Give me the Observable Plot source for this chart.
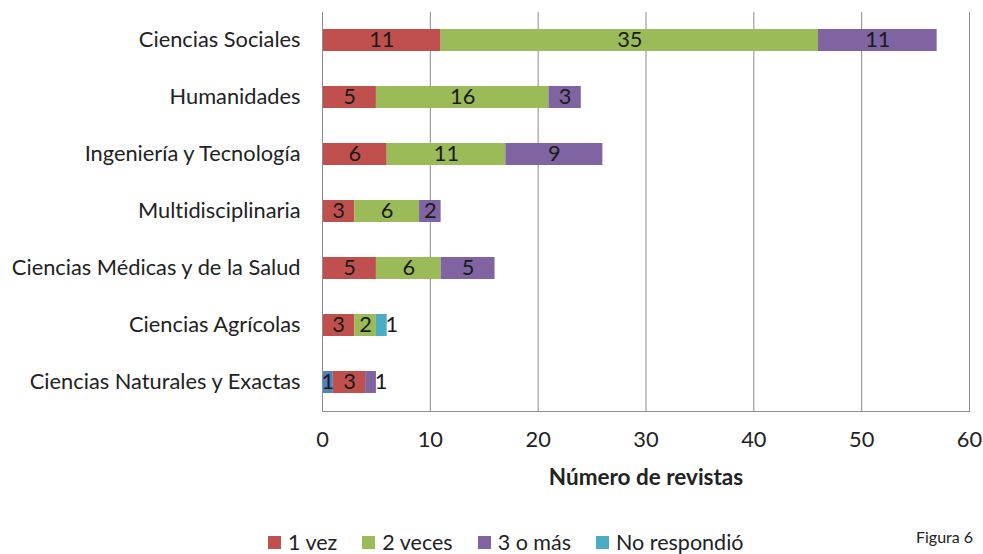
<!DOCTYPE html>
<html>
<head>
<meta charset="utf-8">
<script src="https://cdn.jsdelivr.net/npm/d3@7"></script>
<script src="https://cdn.jsdelivr.net/npm/@observablehq/plot@0.6"></script>
<style>
  html, body { margin: 0; padding: 0; background: #fff; overflow: hidden; }
  body { width: 983px; height: 554px; position: relative; font-family: Lato, "Open Sans", sans-serif; font-variant-ligatures: none; }
  svg text { font-variant-ligatures: none; }
  #chart { position: absolute; left: 0; top: 0; }
  #legend { position: absolute; left: 268px; top: 529px; display: flex; font-size: 21.5px; color: #222; white-space: nowrap; }
  #legend .item { display: flex; align-items: center; margin-right: 25px; }
  #legend .sw { width: 13px; height: 13px; margin-right: 7px; }
  #fig { position: absolute; left: 916px; top: 527px; font-size: 16px; color: #222; white-space: nowrap; }
</style>
</head>
<body>
<div id="chart"></div>
<div id="legend"></div>
<div id="fig">Figura 6</div>
<script>
const categories = [
  "Ciencias Sociales",
  "Humanidades",
  "Ingeniería y Tecnología",
  "Multidisciplinaria",
  "Ciencias Médicas y de la Salud",
  "Ciencias Agrícolas",
  "Ciencias Naturales y Exactas"
];
const seriesNames = ["Otro", "1 vez", "2 veces", "3 o más", "No respondió"];
const legendSeries = ["1 vez", "2 veces", "3 o más", "No respondió"];
const seriesColors = ["#4F81BD", "#C0504D", "#9BBB59", "#8064A2", "#4BACC6"];
const otro        = [0, 0, 0, 0, 0, 0, 1];
const unaVez      = [11, 5, 6, 3, 5, 3, 3];
const dosVeces    = [35, 16, 11, 6, 6, 2, 0];
const tresOMas    = [11, 3, 9, 2, 5, 0, 1];
const noRespondio = [0, 0, 0, 0, 0, 1, 0];
const xTicks = [0, 10, 20, 30, 40, 50, 60];

const seriesValues = [otro, unaVez, dosVeces, tresOMas, noRespondio];
const data = [];
categories.forEach((c, i) => {
  const row = [];
  seriesNames.forEach((s, j) => {
    const v = seriesValues[j][i];
    if (v > 0) row.push({cat: c, series: s, value: v});
  });
  row.forEach((d, k) => { d.outside = (k === row.length - 1 && d.value <= 1); data.push(d); });
});

const stackOpts = (extra) => Plot.stackX({
  x: "value", y: "cat", z: "series",
  order: seriesNames, ...extra
});

const FS = 21.8;
const chart = Plot.plot({
  width: 983,
  height: 500,
  marginLeft: 322,
  marginRight: 14,
  marginTop: 12,
  marginBottom: 89,
  style: {fontFamily: "Lato, 'Open Sans', sans-serif", fontSize: FS + "px", color: "#222", background: "#fff"},
  x: {domain: [0, 60], ticks: xTicks, label: null},
  y: {domain: categories, paddingInner: 0.61, paddingOuter: 0.305, label: null},
  color: {domain: seriesNames, range: seriesColors},
  marks: [
    Plot.gridX(xTicks.slice(1), {stroke: "#8c8c8c", strokeOpacity: 1, strokeWidth: 1}),
    Plot.barX(data, stackOpts({fill: "series", inset: 0})),
    Plot.ruleX([0], {stroke: "#8c8c8c", strokeWidth: 1}),
    Plot.frame({anchor: "bottom", stroke: "#8c8c8c"}),
    Plot.text(data, stackOpts({text: d => d.outside ? "" : String(d.value), fill: "#1a1a1a", fontSize: FS})),
    Plot.text(data, stackOpts({text: d => d.outside ? String(d.value) : "", fill: "#1a1a1a", fontSize: FS, dx: 10})),
    Plot.axisY({tickSize: 0, tickPadding: 22, fontSize: FS, fill: "#222", label: null}),
    Plot.axisX(xTicks, {tickSize: 0, tickPadding: 20, fontSize: FS, fill: "#222", label: null}),
    Plot.text(["Número de revistas"], {frameAnchor: "bottom", dy: 73, fontWeight: "bold", fontSize: 22.5, fill: "#222"})
  ]
});
document.getElementById("chart").appendChild(chart);

const legend = document.getElementById("legend");
legendSeries.forEach(s => {
  const it = document.createElement("div");
  it.className = "item";
  const sw = document.createElement("div");
  sw.className = "sw";
  sw.style.background = seriesColors[seriesNames.indexOf(s)];
  const t = document.createElement("span");
  t.textContent = s;
  it.appendChild(sw); it.appendChild(t);
  legend.appendChild(it);
});
</script>
</body>
</html>
